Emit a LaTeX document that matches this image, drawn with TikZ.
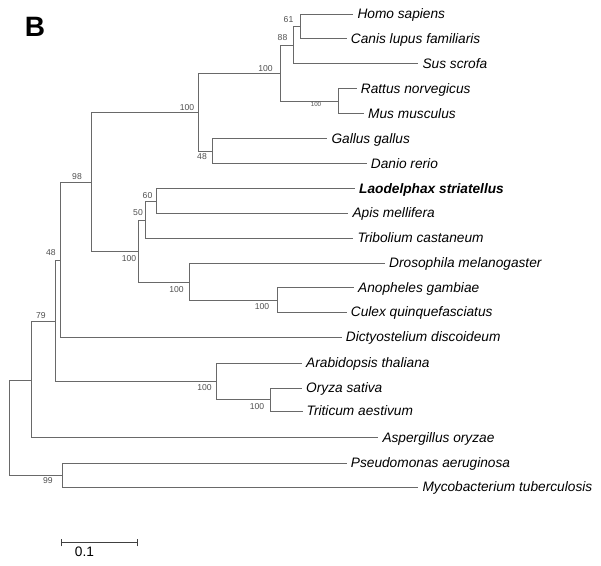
\documentclass[tikz,border=0pt]{standalone}
\usepackage{fontspec}
\setmainfont{Liberation Sans}
\definecolor{branch}{RGB}{105,105,105}
\definecolor{boot}{RGB}{80,80,80}
\begin{document}
\begin{tikzpicture}[x=1pt,y=-1pt,
  br/.style={draw=branch,line width=0.9pt},
  leaf/.style={anchor=west,inner xsep=4pt,inner ysep=0pt,
    font=\fontsize{13.7}{14}\selectfont\itshape,text height=9.8pt,text depth=0.8pt},
  bs/.style={inner sep=0pt,text=boot,font=\fontsize{8.6}{9}\selectfont,
    text height=6.2pt,text depth=0pt},
  bstiny/.style={inner sep=0pt,text=boot,font=\fontsize{6.2}{7}\selectfont,
    text height=4.5pt,text depth=0pt}]
\useasboundingbox (0,0) rectangle (601,565);

% panel letter
\node[inner sep=0pt,font=\fontsize{28}{30}\selectfont\bfseries,text height=20pt,text depth=0pt] (panel) at (35,26.7) {B};

% leaves
\node[leaf] (homo)  at (353.3,14)   {Homo sapiens};
\node[leaf] (canis) at (346.7,38.6) {Canis lupus familiaris};
\node[leaf] (sus)   at (418.3,63.5) {Sus scrofa};
\node[leaf] (rat)   at (356.7,88.7) {Rattus norvegicus};
\node[leaf] (mus)   at (364,113.8)  {Mus musculus};
\node[leaf] (gal)   at (327.3,138.6){Gallus gallus};
\node[leaf] (dan)   at (366.7,163.5){Danio rerio};
\node[leaf,font=\fontsize{13.7}{14}\selectfont\bfseries\itshape] (lao) at (355,188.6) {Laodelphax striatellus};
\node[leaf] (apis)  at (348.3,213.2){Apis mellifera};
\node[leaf] (trib)  at (353.3,238.3){Tribolium castaneum};
\node[leaf] (dros)  at (385,263.3)  {Drosophila melanogaster};
\node[leaf] (anop)  at (354,287.7)  {Anopheles gambiae};
\node[leaf] (culex) at (346.7,312)  {Culex quinquefasciatus};
\node[leaf] (dict)  at (341.7,337)  {Dictyostelium discoideum};
\node[leaf] (arab)  at (302,363.3)  {Arabidopsis thaliana};
\node[leaf] (oryza) at (302,388)    {Oryza sativa};
\node[leaf] (trit)  at (302.5,411)  {Triticum aestivum};
\node[leaf] (asp)   at (378.3,437.5){Aspergillus oryzae};
\node[leaf] (pseu)  at (346.7,463.3){Pseudomonas aeruginosa};
\node[leaf] (myco)  at (418.3,487.3){Mycobacterium tuberculosis};

% internal nodes
\coordinate (n61)  at (300,26.3);
\coordinate (n88)  at (293.3,45);
\coordinate (nmam) at (280,73);
\coordinate (nrod) at (338.3,101.2);
\coordinate (nvert) at (198.3,112.7);
\coordinate (nfish) at (212,151);
\coordinate (n98)  at (91.7,182.7);
\coordinate (n60)  at (156.7,201);
\coordinate (n50)  at (145.3,220);
\coordinate (nins) at (138.7,251);
\coordinate (ndip) at (189,282.7);
\coordinate (nmos) at (277.7,300);
\coordinate (n48)  at (60,260.3);
\coordinate (n79a) at (55,321.7);
\coordinate (npl)  at (216.7,381.7);
\coordinate (ncer) at (270.5,399.5);
\coordinate (n79)  at (31.7,380);
\coordinate (root) at (9.3,428);
\coordinate (nbac) at (62.7,475.5);

% branches
\draw[br] (n61) |- (homo.west);
\draw[br] (n61) |- (canis.west);
\draw[br] (n88) |- (n61);
\draw[br] (n88) |- (sus.west);
\draw[br] (nmam) |- (n88);
\draw[br] (nmam) |- (nrod);
\draw[br] (nrod) |- (rat.west);
\draw[br] (nrod) |- (mus.west);
\draw[br] (nvert) |- (nmam);
\draw[br] (nvert) |- (nfish);
\draw[br] (nfish) |- (gal.west);
\draw[br] (nfish) |- (dan.west);
\draw[br] (n98) |- (nvert);
\draw[br] (n98) |- (nins);
\draw[br] (n60) |- (lao.west);
\draw[br] (n60) |- (apis.west);
\draw[br] (n50) |- (n60);
\draw[br] (n50) |- (trib.west);
\draw[br] (nins) |- (n50);
\draw[br] (nins) |- (ndip);
\draw[br] (ndip) |- (dros.west);
\draw[br] (ndip) |- (nmos);
\draw[br] (nmos) |- (anop.west);
\draw[br] (nmos) |- (culex.west);
\draw[br] (n48) |- (n98);
\draw[br] (n48) |- (dict.west);
\draw[br] (n79a) |- (n48);
\draw[br] (n79a) |- (npl);
\draw[br] (npl) |- (arab.west);
\draw[br] (npl) |- (ncer);
\draw[br] (ncer) |- (oryza.west);
\draw[br] (ncer) |- (trit.west);
\draw[br] (n79) |- (n79a);
\draw[br] (n79) |- (asp.west);
\draw[br] (root) |- (n79);
\draw[br] (root) |- (nbac);
\draw[br] (nbac) |- (pseu.west);
\draw[br] (nbac) |- (myco.west);

% bootstrap values
\node[bs] (b61)   at (288.5,19.5)  {61};
\node[bs] (b88)   at (282.5,37.5)  {88};
\node[bs] (bmam)  at (265.5,68.5)  {100};
\node[bstiny] (brod) at (316,104)  {100};
\node[bs] (bvert) at (187,107.5)   {100};
\node[bs] (bfish) at (202,156.5)   {48};
\node[bs] (b98)   at (77,176.5)    {98};
\node[bs] (b60)   at (147.5,195)   {60};
\node[bs] (b50)   at (138,212.5)   {50};
\node[bs] (bins)  at (129,258.5)   {100};
\node[bs] (bdip)  at (176.5,289)   {100};
\node[bs] (bmos)  at (262,306.5)   {100};
\node[bs] (b48)   at (51,252.5)    {48};
\node[bs] (b79)   at (41,315.5)    {79};
\node[bs] (bpl)   at (204.5,387)   {100};
\node[bs] (bcer)  at (257,406.5)   {100};
\node[bs] (b99)   at (48,480)      {99};

% scale bar
\coordinate (sb1) at (61.7,542.3);
\coordinate (sb2) at (137.3,542.3);
\draw[draw=black!75,line width=0.9pt] (sb1) -- (sb2);
\draw[draw=black!75,line width=0.9pt] ([yshift=-4pt]sb1) -- ([yshift=3.5pt]sb1);
\draw[draw=black!75,line width=0.9pt] ([yshift=-4pt]sb2) -- ([yshift=3.5pt]sb2);
\node[inner sep=0pt,font=\fontsize{13.7}{14}\selectfont,text height=9.8pt,text depth=0pt] (sblab) at (84.5,551.5) {0.1};
\end{tikzpicture}
\end{document}
